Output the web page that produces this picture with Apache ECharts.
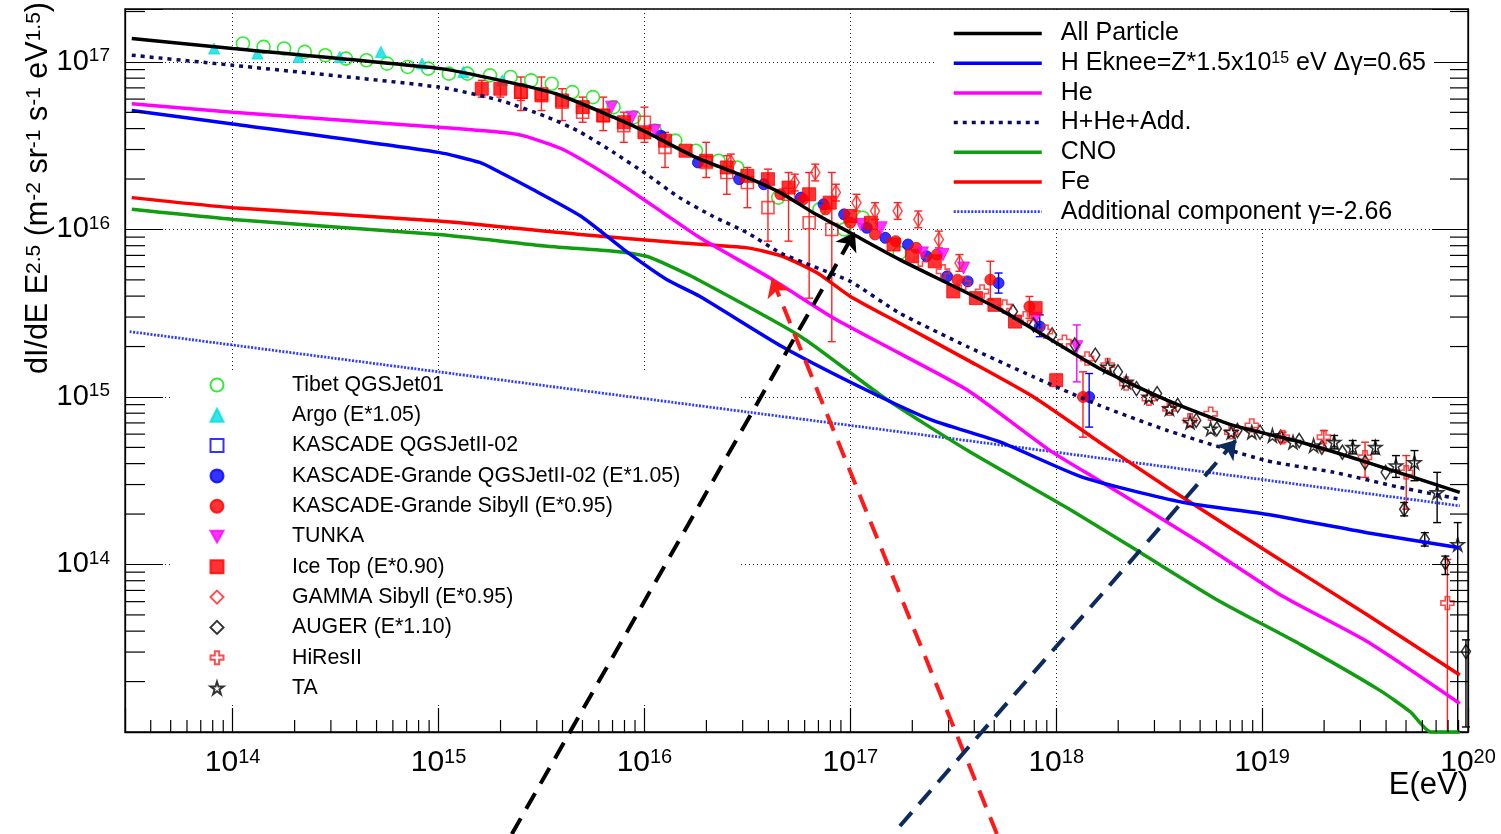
<!DOCTYPE html>
<html>
<head>
<meta charset="utf-8">
<script src="https://cdn.jsdelivr.net/npm/echarts@6/dist/echarts.min.js"></script>
<style>
  html, body { margin: 0; padding: 0; background: #fff; }
  #chart { width: 1501px; height: 834px; }
</style>
</head>
<body>
<div id="chart"></div>
<script>
// All energies and fluxes are tabulated as lg = log10:
// lgE = log10(E / eV), lgF = log10(dI/dE * E^2.5 / (m^-2 sr^-1 s^-1 eV^1.5))

// Axis ranges
const xMin = 3e13, xMax = 1e20;
const yMin = 1e13, yMax = 2.07e17;

// ---- model curves ----
const allLgE = [13.51, 14.00, 15.01, 15.30, 15.57, 15.85, 16.01, 16.25, 16.50, 16.66, 16.82, 17.00, 17.24, 17.73, 18.21, 18.54, 18.86, 19.19, 19.51, 19.96];
const allLgF = [17.14, 17.08, 16.96, 16.89, 16.81, 16.67, 16.58, 16.43, 16.31, 16.22, 16.10, 15.98, 15.82, 15.52, 15.17, 14.98, 14.83, 14.73, 14.61, 14.43];

const hLgE = [13.51, 14.00, 15.00, 15.20, 15.30, 15.44, 15.69, 15.90, 16.11, 16.27, 16.67, 17.08, 17.40, 17.73, 18.13, 18.62, 19.02, 19.51, 19.96];
const hLgF = [16.71, 16.63, 16.46, 16.40, 16.34, 16.25, 16.08, 15.88, 15.70, 15.60, 15.30, 15.04, 14.86, 14.73, 14.52, 14.37, 14.30, 14.19, 14.10];

const heLgE = [13.51, 14.00, 15.00, 15.30, 15.41, 15.60, 15.85, 16.09, 16.27, 16.61, 16.92, 17.24, 17.57, 17.97, 18.21, 18.70, 19.10, 19.51, 19.96];
const heLgF = [16.75, 16.70, 16.61, 16.58, 16.56, 16.48, 16.30, 16.10, 15.95, 15.71, 15.47, 15.26, 15.04, 14.68, 14.50, 14.13, 13.81, 13.54, 13.17];

const sumLgE = [13.51, 14.00, 15.00, 15.30, 15.53, 15.69, 15.85, 16.01, 16.17, 16.33, 16.50, 16.66, 16.82, 17.00, 17.24, 17.57, 17.89, 18.21, 18.54, 19.02, 19.35, 19.67, 19.96];
const sumLgF = [17.04, 16.98, 16.85, 16.77, 16.67, 16.58, 16.46, 16.33, 16.19, 16.08, 15.98, 15.86, 15.78, 15.69, 15.50, 15.30, 15.12, 14.95, 14.80, 14.62, 14.55, 14.46, 14.39];

const cnoLgE = [13.51, 14.00, 15.00, 15.53, 15.85, 16.01, 16.09, 16.26, 16.76, 17.16, 17.57, 18.05, 18.41, 18.78, 19.19, 19.57, 19.72, 19.82, 19.96];
const cnoLgF = [16.12, 16.06, 15.97, 15.90, 15.87, 15.84, 15.80, 15.70, 15.36, 15.00, 14.68, 14.34, 14.07, 13.79, 13.52, 13.25, 13.12, 13.00, 13.00];

const feLgE = [13.51, 14.00, 15.00, 15.69, 16.17, 16.50, 16.67, 16.84, 17.00, 17.24, 17.57, 17.89, 18.21, 18.54, 19.02, 19.51, 19.96];
const feLgF = [16.19, 16.13, 16.05, 15.97, 15.92, 15.89, 15.84, 15.74, 15.60, 15.44, 15.22, 15.00, 14.73, 14.46, 14.08, 13.70, 13.34];

const addLgE = [13.50, 15.00, 16.50, 18.00, 19.96];
const addLgF = [15.39, 15.15, 14.91, 14.67, 14.35];

// ---- measurements ----
const tibetLgE = [14.05, 14.15, 14.25, 14.35, 14.45, 14.55, 14.65, 14.75, 14.85, 14.95, 15.05, 15.14, 15.25, 15.35, 15.45, 15.55, 15.65, 15.75, 15.85, 15.95, 16.05, 16.15, 16.25, 16.36, 16.45, 16.65, 16.85, 16.97, 17.06, 17.24];
const tibetLgF = [17.11, 17.09, 17.08, 17.06, 17.04, 17.02, 17.01, 16.99, 16.97, 16.96, 16.93, 16.93, 16.92, 16.91, 16.89, 16.87, 16.82, 16.79, 16.73, 16.67, 16.59, 16.53, 16.47, 16.41, 16.37, 16.19, 16.12, 16.00, 16.07, 15.86];

const argoLgE = [13.91, 14.12, 14.32, 14.52, 14.72, 14.92, 15.12, 15.31];
const argoLgF = [17.08, 17.05, 17.03, 17.03, 17.06, 16.99, 16.94, 16.89];

const kascadeLgE  = [15.40, 15.50, 15.60, 15.70, 15.80, 15.90, 16.00, 16.10, 16.30, 16.40, 16.50, 16.60, 16.70, 16.80, 16.91];
const kascadeLgF  = [16.82, 16.81, 16.76, 16.70, 16.68, 16.62, 16.64, 16.49, 16.40, 16.34, 16.28, 16.13, 16.21, 16.04, 16.00];
const kascadeLgLo = [16.71, 16.71, 16.65, 16.64, 16.59, 16.52, 16.52, 16.37, 16.31, 16.21, 16.13, 15.93, 15.93, 15.59, 15.33];
const kascadeLgHi = [16.91, 16.91, 16.84, 16.79, 16.79, 16.70, 16.73, 16.58, 16.52, 16.44, 16.37, 16.36, 16.34, 16.34, 16.34];

const kgQgsLgE = [16.08, 16.26, 16.46, 16.58, 16.76, 16.87, 16.97, 17.08, 17.17, 17.28, 17.37, 17.47, 17.57, 17.72, 17.92, 18.16];
const kgQgsLgF = [16.56, 16.40, 16.30, 16.27, 16.19, 16.15, 16.09, 16.01, 15.95, 15.91, 15.84, 15.72, 15.69, 15.68, 15.42, 15.00];
const kgQgsErr = [[17.72, 15.62, 15.74], [17.92, 15.36, 15.49], [18.16, 14.82, 15.14]];

const kgSibLgE = [16.66, 16.77, 16.88, 17.00, 17.12, 17.22, 17.32, 17.42, 17.52, 17.68, 17.87, 18.13];
const kgSibLgF = [16.21, 16.18, 16.12, 16.04, 15.97, 15.93, 15.89, 15.85, 15.70, 15.70, 15.54, 15.00];
const kgSibErr = [[17.68, 15.58, 15.81], [17.87, 15.47, 15.60], [18.13, 14.76, 15.15]];

const tunkaLgE = [15.84, 15.94, 16.05, 17.05, 17.15, 17.35, 17.45, 17.55, 17.90, 18.10];
const tunkaLgF = [16.73, 16.67, 16.59, 16.03, 16.01, 15.86, 15.85, 15.77, 15.47, 15.30];
const tunkaErr = [[18.10, 15.09, 15.43]];

const iceTopLgE = [15.21, 15.30, 15.40, 15.50, 15.60, 15.70, 15.80, 15.90, 16.00, 16.10, 16.20, 16.30, 16.40, 16.50, 16.60, 16.70, 16.80, 16.90, 17.00, 17.10, 17.21, 17.30, 17.41, 17.50, 17.61, 17.70, 17.80, 17.90, 18.00];
const iceTopLgF = [16.84, 16.84, 16.82, 16.80, 16.77, 16.73, 16.68, 16.64, 16.58, 16.53, 16.47, 16.41, 16.37, 16.32, 16.30, 16.25, 16.21, 16.16, 16.08, 16.04, 15.91, 15.84, 15.81, 15.63, 15.59, 15.55, 15.45, 15.53, 15.10];
const iceTopErr = [[15.21, 16.79, 16.89], [15.30, 16.79, 16.89], [15.40, 16.77, 16.87]];

const gammaLgE = [16.42, 16.73, 16.83, 16.93, 17.03, 17.12, 17.23, 17.33, 17.43, 17.53];
const gammaLgF = [16.40, 16.28, 16.34, 16.22, 16.16, 16.11, 16.11, 16.06, 15.94, 15.80];
const gammaErr = [[16.42, 16.35, 16.45], [16.73, 16.23, 16.33], [16.83, 16.29, 16.39], [16.93, 16.17, 16.27], [17.03, 16.11, 16.21],
                  [17.12, 16.06, 16.16], [17.23, 16.06, 16.16], [17.33, 16.01, 16.11], [17.43, 15.89, 15.99], [17.53, 15.75, 15.85]];

const augerLgE = [17.79, 17.89, 17.98, 18.09, 18.19, 18.30, 18.39, 18.49, 18.59, 18.68, 18.78, 18.88, 18.99, 19.09, 19.18, 19.29, 19.39, 19.50, 19.60, 19.69, 19.79, 19.89, 19.99];
const augerLgF = [15.51, 15.43, 15.37, 15.31, 15.25, 15.15, 15.05, 15.02, 14.95, 14.86, 14.81, 14.80, 14.79, 14.76, 14.74, 14.70, 14.67, 14.61, 14.55, 14.33, 14.15, 14.01, 13.48];
const augerErr = [[19.69, 14.29, 14.37], [19.79, 14.11, 14.19], [19.89, 13.94, 14.05], [19.99, 13.03, 13.55]];

const hiresLgE = [17.34, 17.45, 17.55, 17.64, 17.75, 17.85, 17.95, 18.04, 18.15, 18.25, 18.34, 18.45, 18.55, 18.65, 18.75, 18.85, 18.95, 19.10, 19.30, 19.50, 19.70, 19.90];
const hiresLgF = [15.82, 15.75, 15.68, 15.63, 15.54, 15.47, 15.39, 15.33, 15.23, 15.19, 15.08, 14.99, 14.93, 14.86, 14.90, 14.79, 14.83, 14.76, 14.76, 14.64, 14.55, 13.77];
const hiresErr = [[19.10, 14.73, 14.79], [19.30, 14.68, 14.80], [19.50, 14.52, 14.73], [19.70, 14.33, 14.65], [19.90, 13.00, 14.03]];

const taLgE = [18.25, 18.34, 18.45, 18.55, 18.65, 18.75, 18.85, 18.95, 19.05, 19.15, 19.25, 19.35, 19.44, 19.55, 19.65, 19.74, 19.85, 19.95];
const taLgF = [15.18, 15.09, 15.00, 14.93, 14.85, 14.81, 14.79, 14.79, 14.77, 14.73, 14.71, 14.73, 14.70, 14.70, 14.59, 14.61, 14.43, 14.12];
const taErr = [[19.35, 14.69, 14.77], [19.44, 14.66, 14.74], [19.55, 14.66, 14.74], [19.65, 14.52, 14.65], [19.74, 14.50, 14.68], [19.85, 14.25, 14.55], [19.95, 13.00, 14.25]];

// ---- annotation arrows: [tail, head] in (lgE, lgF) ----
const arrowAllKnee = [[15.356, 12.391], [17.022, 15.985]];
const arrowFeKnee  = [[17.712, 12.391], [16.619, 15.710]];
const arrowAnkle   = [[17.241, 12.439], [18.874, 14.743]];

// ---- labels ----
const lineNames = ['All Particle', 'H', 'He', 'H+He+Add.', 'CNO', 'Fe', 'Additional component \u03b3=-2.66'];
const lineLabels = { 'H': 'H Eknee=Z*1.5x10{sup|15} eV \u0394\u03b3=0.65' };
const dataNames = ['Tibet QGSJet01', 'Argo (E*1.05)', 'KASCADE QGSJetII-02', 'KASCADE-Grande QGSJetII-02 (E*1.05)',
  'KASCADE-Grande Sibyll (E*0.95)', 'TUNKA', 'Ice Top (E*0.90)', 'GAMMA Sibyll (E*0.95)', 'AUGER (E*1.10)', 'HiResII', 'TA'];

const FONT = 'Liberation Sans';
const LG = v => Math.pow(10, v);
const pts = (lgE, lgF) => lgE.map((e, i) => [LG(e), LG(lgF[i])]);

function curve(name, lgE, lgF, color, width, type) {
  return {
    type: 'line', name, data: pts(lgE, lgF), symbol: 'none', showSymbol: false,
    smooth: 0.2, clip: false, z: 3, silent: true,
    lineStyle: { color, width, type: type || 'solid', cap: 'butt' }, itemStyle: { color }
  };
}

const OPEN = 'rgba(255,255,255,0)';
function scatter(name, lgE, lgF, o) {
  return {
    type: 'scatter', name, data: pts(lgE, lgF), symbol: o.symbol, symbolSize: o.size, z: 2, silent: true,
    itemStyle: { color: o.open ? OPEN : o.color, borderColor: o.color, borderWidth: o.open ? 1.6 : 1 }
  };
}

function errorBars(triples, color) {
  return {
    type: 'custom', z: 2, silent: true,
    data: triples.map(t => [LG(t[0]), LG(t[1]), LG(t[2])]),
    encode: { x: 0, y: [1, 2] },
    renderItem(params, api) {
      const lo = api.coord([api.value(0), api.value(1)]);
      const hi = api.coord([api.value(0), api.value(2)]);
      const c = 4;
      const style = { stroke: color, lineWidth: 1.4 };
      return {
        type: 'group', children: [
          { type: 'line', shape: { x1: lo[0], y1: lo[1], x2: hi[0], y2: hi[1] }, style },
          { type: 'line', shape: { x1: lo[0] - c, y1: lo[1], x2: lo[0] + c, y2: lo[1] }, style },
          { type: 'line', shape: { x1: hi[0] - c, y1: hi[1], x2: hi[0] + c, y2: hi[1] }, style }
        ]
      };
    }
  };
}

function arrow(a, color) {
  return {
    type: 'lines', coordinateSystem: 'cartesian2d', clip: false, z: 6, silent: true,
    symbol: ['none', 'arrow'], symbolSize: [0, 18],
    lineStyle: { color, width: 4, type: [18, 11], opacity: 1, curveness: 0 },
    data: [{ coords: a.map(p => [LG(p[0]), LG(p[1])]) }]
  };
}

// minor ticks at 2..9 x 10^n
const xMinorTicks = [], yMinorTicks = [];
for (let n = 13; n < 20; n++) for (let k = 2; k <= 9; k++) {
  const v = k * Math.pow(10, n);
  if (v > xMin * 1.001 && v < xMax) xMinorTicks.push(v);
  if (v > yMin * 1.001 && v < yMax) yMinorTicks.push(v);
}

const tickStyle = { stroke: '#000', lineWidth: 1.2 };
const minorX = {
  type: 'custom', z: 5, silent: true, clip: false,
  data: xMinorTicks.map(v => [v, yMin]),
  renderItem(params, api) {
    const cs = params.coordSys;
    const p = api.coord([api.value(0), api.value(1)]);
    const yb = cs.y + cs.height;
    return { type: 'line', shape: { x1: p[0], y1: yb, x2: p[0], y2: yb - 12 }, style: tickStyle };
  }
};
const minorY = {
  type: 'custom', z: 5, silent: true, clip: false,
  data: yMinorTicks.map(v => [xMin, v]),
  renderItem(params, api) {
    const cs = params.coordSys;
    const p = api.coord([api.value(0), api.value(1)]);
    const xr = cs.x + cs.width;
    return {
      type: 'group', children: [
        { type: 'line', shape: { x1: cs.x, y1: p[1], x2: cs.x + 20, y2: p[1] }, style: tickStyle },
        { type: 'line', shape: { x1: xr, y1: p[1], x2: xr - 18, y2: p[1] }, style: tickStyle }
      ]
    };
  }
};

const powLabel = v => '{b|10}{e|' + Math.round(Math.log10(v)) + '}';
const xLabel = v => (v < 5e13 ? '' : powLabel(v));
const yLabel = v => (v < 5e13 || v > 1.5e17 ? '' : powLabel(v));

const crossPath = 'path://M4,0H8V4H12V8H8V12H4V8H0V4H4Z';
const starPath = 'path://M50,2L61,37L98,37L68,59L79,95L50,73L21,95L32,59L2,37L39,37Z';
const downTrianglePath = 'path://M0,0L10,0L5,9Z';

const series = [
  // measurements (error bars first, markers on top)
  errorBars(kascadeLgE.map((e, i) => [e, kascadeLgLo[i], kascadeLgHi[i]]), '#ff2020'),
  errorBars(iceTopErr, '#ff2020'),
  errorBars(gammaErr, '#ff2020'),
  errorBars(kgQgsErr, '#0000ff'),
  errorBars(kgSibErr, '#ff2020'),
  errorBars(tunkaErr, '#ff00ff'),
  errorBars(hiresErr, '#ff2020'),
  errorBars(augerErr, '#000000'),
  errorBars(taErr, '#000000'),
  scatter(dataNames[0], tibetLgE, tibetLgF, { symbol: 'circle', size: 13, color: '#00e600', open: true }),
  scatter(dataNames[1], argoLgE, argoLgF, { symbol: 'triangle', size: 11, color: '#00dede' }),
  scatter(dataNames[2], kascadeLgE, kascadeLgF, { symbol: 'rect', size: 12, color: '#ff2020', open: true }),
  scatter(dataNames[3], kgQgsLgE, kgQgsLgF, { symbol: 'circle', size: 11, color: '#0000ff' }),
  scatter(dataNames[4], kgSibLgE, kgSibLgF, { symbol: 'circle', size: 11, color: '#ff0000' }),
  scatter(dataNames[5], tunkaLgE, tunkaLgF, { symbol: downTrianglePath, size: 12, color: '#ff00ff' }),
  scatter(dataNames[6], iceTopLgE, iceTopLgF, { symbol: 'rect', size: 13, color: '#ff0000' }),
  scatter(dataNames[7], gammaLgE, gammaLgF, { symbol: 'diamond', size: [9, 15], color: '#ff2020', open: true }),
  scatter(dataNames[8], augerLgE, augerLgF, { symbol: 'diamond', size: [9, 14], color: '#000000', open: true }),
  scatter(dataNames[9], hiresLgE, hiresLgF, { symbol: crossPath, size: 13, color: '#ff2020', open: true }),
  scatter(dataNames[10], taLgE, taLgF, { symbol: starPath, size: 13, color: '#000000', open: true }),
  // model curves
  curve(lineNames[6], addLgE, addLgF, '#2b3bff', 2.8, [2, 1.5]),
  curve(lineNames[4], cnoLgE, cnoLgF, '#119c11', 3.5),
  curve(lineNames[5], feLgE, feLgF, '#ff0000', 3.5),
  curve(lineNames[2], heLgE, heLgF, '#ff00ff', 3.5),
  curve(lineNames[1], hLgE, hLgF, '#0000ff', 3.5),
  curve(lineNames[3], sumLgE, sumLgF, '#0b0b60', 3.5, [4, 5]),
  curve(lineNames[0], allLgE, allLgF, '#000000', 3.5),
  // axis furniture and annotations
  minorX, minorY,
  arrow(arrowAllKnee, '#000000'),
  arrow(arrowFeKnee, '#ff1a1a'),
  arrow(arrowAnkle, '#0c2a5c')
];

const axisCommon = {
  type: 'log', logBase: 10,
  axisLine: { show: true, lineStyle: { color: '#000', width: 1.3 } },
  splitLine: { show: true, lineStyle: { color: '#222', width: 1, type: [1, 3] } },
  minorTick: { show: false }
};

const labelRich = (big, small) => ({
  b: { fontFamily: FONT, fontSize: big, lineHeight: big + 2, color: '#000' },
  e: { fontFamily: FONT, fontSize: small, lineHeight: 12, verticalAlign: 'top', color: '#000' }
});

const option = {
  backgroundColor: '#fff',
  animation: false,
  grid: {
    left: 125, top: 9, right: 33, bottom: 102, show: true,
    borderColor: '#000', borderWidth: 1.3, backgroundColor: '#fff',
    containLabel: false, outerBoundsMode: 'none'
  },
  xAxis: Object.assign({}, axisCommon, {
    min: xMin, max: xMax,
    axisTick: { show: true, inside: true, length: 24, lineStyle: { color: '#000', width: 1.2 } },
    axisLabel: { margin: 15, fontFamily: FONT, fontSize: 30, color: '#000', formatter: xLabel, rich: labelRich(30, 20) }
  }),
  yAxis: [
    Object.assign({}, axisCommon, {
      min: yMin, max: yMax,
      axisTick: { show: true, inside: true, length: 38, lineStyle: { color: '#000', width: 1.2 } },
      axisLabel: { margin: 15, fontFamily: FONT, fontSize: 29, color: '#000', formatter: yLabel, rich: labelRich(29, 19) }
    }),
    Object.assign({}, axisCommon, {
      position: 'right', min: yMin, max: yMax,
      axisTick: { show: true, inside: true, length: 36, lineStyle: { color: '#000', width: 1.2 } },
      axisLabel: { show: false },
      splitLine: { show: false }
    })
  ],
  legend: [
    {
      data: lineNames, orient: 'vertical', left: 935, top: 12, z: 1,
      padding: [9, 8, 2, 17], itemWidth: 88, itemHeight: 14, itemGap: 4.7,
      backgroundColor: '#fff', selectedMode: false,
      lineStyle: { width: 'inherit' },
      itemStyle: { opacity: 0 },
      formatter: n => lineLabels[n] || n,
      textStyle: {
        fontFamily: FONT, fontSize: 25, lineHeight: 25, color: '#000', padding: [0, 0, 0, 14],
        rich: { sup: { fontFamily: FONT, fontSize: 16, lineHeight: 12, verticalAlign: 'top', color: '#000' } }
      }
    },
    {
      data: dataNames.map(n => n === dataNames[2] ? { name: n, itemStyle: { borderColor: '#0000ff' } } : n),
      orient: 'vertical', left: 170, top: 370, z: 1,
      padding: [4, 60, 6, 39.5], itemWidth: 13, itemHeight: 13, itemGap: 8.3,
      backgroundColor: '#fff', selectedMode: false,
      textStyle: { fontFamily: FONT, fontSize: 21.3, lineHeight: 22, color: '#000', padding: [0, 0, 0, 63.5] }
    }
  ],
  graphic: [
    {
      type: 'text', x: 39, y: 188, rotation: Math.PI / 2, silent: true,
      style: {
        text: 'dI/dE E{s|2.5} (m{s|-2} sr{s|-1} s{s|-1} eV{s|1.5})',
        fontFamily: FONT, fontSize: 30.5, fill: '#000', align: 'center', verticalAlign: 'middle',
        rich: { s: { fontFamily: FONT, fontSize: 21, lineHeight: 15, verticalAlign: 'top', fill: '#000' } }
      }
    },
    {
      type: 'text', x: 1468, y: 785, silent: true,
      style: { text: 'E(eV)', fontFamily: FONT, fontSize: 31, fill: '#000', align: 'right', verticalAlign: 'middle' }
    }
  ],
  series
};

const chart = echarts.init(document.getElementById('chart'), null, { renderer: 'canvas' });
chart.setOption(option);
</script>
</body>
</html>
